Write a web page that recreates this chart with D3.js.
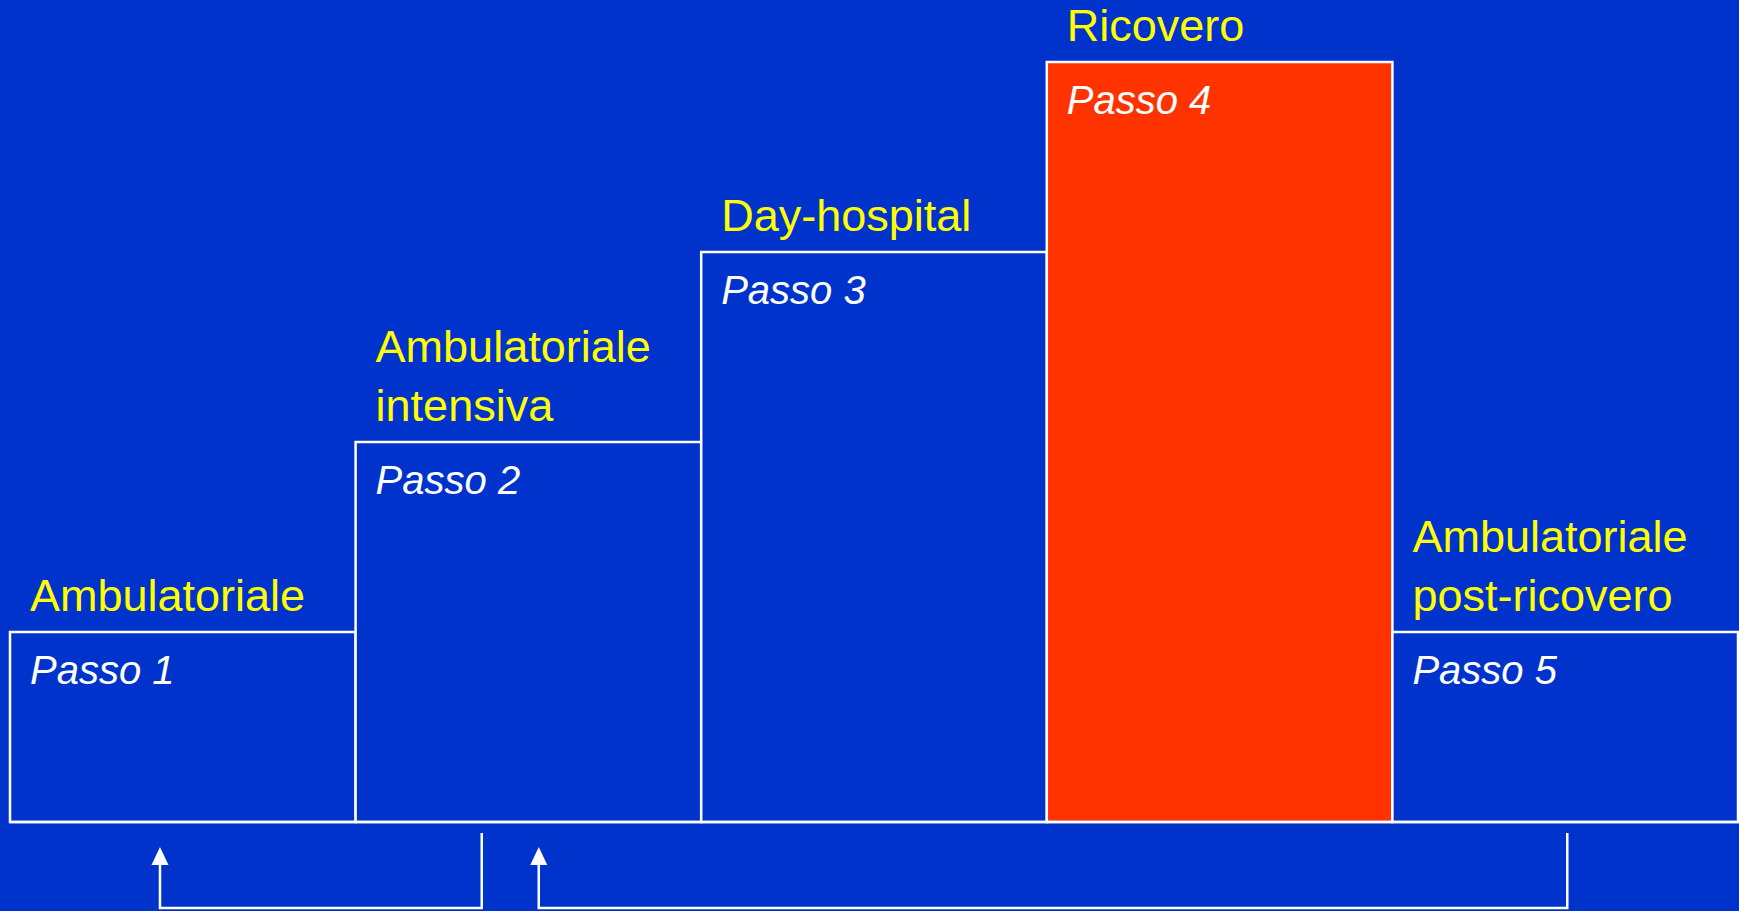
<!DOCTYPE html>
<html><head><meta charset="utf-8">
<script src="https://cdn.jsdelivr.net/npm/d3@7"></script>
<style>html,body{margin:0;padding:0;background:#0033CC;overflow:hidden}svg{display:block}</style>
</head><body><svg id="c" width="1739" height="911"></svg>
<script>
const steps = ["Passo 1","Passo 2","Passo 3","Passo 4","Passo 5"];
const levels = [1, 2, 3, 4, 1];
const settings = [["Ambulatoriale"],["Ambulatoriale","intensiva"],["Day-hospital"],["Ricovero"],["Ambulatoriale","post-ricovero"]];
const highlighted = ["Passo 4"];
// return paths: [from step, to step]
const returns = [["Passo 2","Passo 1"],["Passo 5","Passo 2"]];

const W = 1739, H = 911;
const svg = d3.select("#c");
svg.append("rect").attr("width",W).attr("height",H).attr("fill","#0033CC");

const x = d3.scaleBand().domain(steps).range([10, 1738]).paddingInner(0).paddingOuter(0);
const y = d3.scaleLinear().domain([0, 4]).range([822, 62]);

const g = svg.append("g");
steps.forEach((s,i)=>{
  const x0 = x(s), bw = x.bandwidth(), top = y(levels[i]);
  g.append("rect").attr("x",x0).attr("y",top).attr("width",bw).attr("height",y(0)-top)
    .attr("fill", highlighted.includes(s) ? "#FF3300" : "#0033CC")
    .attr("stroke","#fff").attr("stroke-width",2.5);
  g.append("text").attr("x",x0+20).attr("y",top+52).text(s)
    .attr("fill","#fff").attr("font-family","Liberation Sans, Arial, sans-serif")
    .attr("font-style","italic").attr("font-size",40);
  const lines = settings[i];
  lines.forEach((t,j)=>{
    g.append("text").attr("x",x0+20).attr("y",top-21-(lines.length-1-j)*59).text(t)
      .attr("fill","#FFFF00").attr("font-family","Liberation Sans, Arial, sans-serif")
      .attr("font-size",45);
  });
});
// baseline
svg.append("line").attr("x1",10).attr("x2",W).attr("y1",y(0)).attr("y2",y(0))
  .attr("stroke","#fff").attr("stroke-width",2.5);

// return arrows
const fromFrac = [0.365, 0.506], toFrac = [0.434, 0.53];
const yTop = 833, yBot = 908, tipY = 848, headBase = 864;
returns.forEach((r,i)=>{
  const xf = x(r[0]) + x.bandwidth()*fromFrac[i];
  const xt = x(r[1]) + x.bandwidth()*toFrac[i];
  svg.append("path").attr("d",`M${xf},${yTop}V${yBot}H${xt}V${headBase}`)
    .attr("fill","none").attr("stroke","#fff").attr("stroke-width",2.5);
  svg.append("path").attr("d",`M${xt},${tipY-1}L${xt-8.5},${headBase+1}L${xt+8.5},${headBase+1}Z`).attr("fill","#fff");
});
</script></body></html>
